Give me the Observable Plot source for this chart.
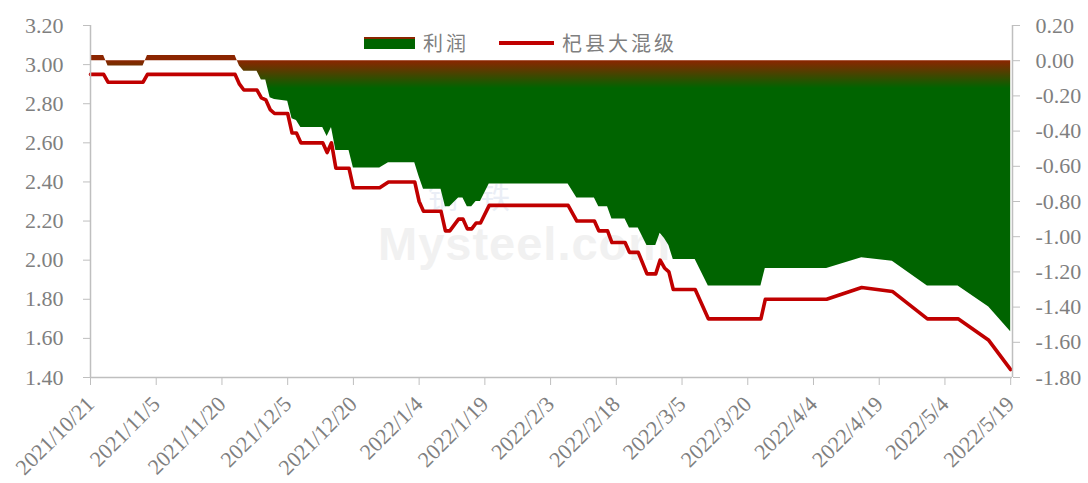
<!DOCTYPE html>
<html><head><meta charset="utf-8">
<script src="https://cdn.jsdelivr.net/npm/d3@7"></script>
<script src="https://cdn.jsdelivr.net/npm/@observablehq/plot@0.6"></script>
<style>
body{margin:0;background:#fff;}
#wrap{position:relative;width:1088px;height:483px;overflow:hidden;background:#fff;}
#legend{position:absolute;left:364px;top:28px;display:flex;align-items:center;font-family:"Noto Sans CJK SC",sans-serif;font-size:20px;color:#7f7f7f;letter-spacing:3px;z-index:3;}
.sw-area{width:51px;height:12px;background:#006400;border-top:2px solid #8B2500;box-sizing:border-box;margin-right:8px;}
.sw-line{width:55px;height:4px;background:#C00000;margin-right:8px;margin-left:30px;}
#wm{position:absolute;left:378px;top:178px;z-index:0;pointer-events:none;}
#wm .cn{margin-left:50px;font-family:"Noto Sans CJK SC",sans-serif;font-size:30px;color:#eaeef6;letter-spacing:22px;line-height:34px;height:34px;margin-bottom:10px;}
#wm .en{font-family:"Liberation Sans",Arial,sans-serif;font-weight:bold;font-size:47px;color:#f1f1f1;line-height:44px;letter-spacing:1px;}
#chart{position:absolute;left:0;top:0;z-index:1;}
</style></head>
<body><div id="wrap">
<div id="wm"><div class="cn">钢铁</div><div class="en">Mysteel.com</div></div>
<div id="chart"></div>
<div id="legend"><div class="sw-area"></div><span>利润</span><div class="sw-line"></div><span>杞县大混级</span></div>
</div>
<script>
const dates = ["2021/10/21","2021/10/24","2021/10/25","2021/11/2","2021/11/3","2021/11/23","2021/11/24","2021/11/25","2021/11/28","2021/11/29","2021/11/30","2021/12/1","2021/12/2","2021/12/5","2021/12/6","2021/12/7","2021/12/8","2021/12/13","2021/12/14","2021/12/15","2021/12/16","2021/12/19","2021/12/20","2021/12/26","2021/12/28","2022/1/3","2022/1/4","2022/1/5","2022/1/9","2022/1/10","2022/1/11","2022/1/13","2022/1/14","2022/1/15","2022/1/16","2022/1/17","2022/1/18","2022/1/20","2022/2/7","2022/2/9","2022/2/13","2022/2/14","2022/2/16","2022/2/17","2022/2/20","2022/2/21","2022/2/23","2022/2/25","2022/2/27","2022/2/28","2022/3/1","2022/3/2","2022/3/3","2022/3/8","2022/3/11","2022/3/23","2022/3/24","2022/4/7","2022/4/15","2022/4/22","2022/4/30","2022/5/7","2022/5/14","2022/5/19"];
const price = [2.95,2.95,2.91,2.91,2.95,2.95,2.90,2.87,2.87,2.83,2.82,2.77,2.75,2.75,2.65,2.65,2.60,2.60,2.55,2.60,2.47,2.47,2.37,2.37,2.40,2.40,2.30,2.25,2.25,2.15,2.15,2.21,2.21,2.16,2.16,2.19,2.19,2.28,2.28,2.20,2.20,2.15,2.15,2.09,2.09,2.04,2.04,1.93,1.93,2.00,1.96,1.94,1.85,1.85,1.70,1.70,1.80,1.80,1.86,1.84,1.70,1.70,1.59,1.44];
const profit = [0.03,0.03,-0.03,-0.03,0.03,0.03,-0.03,-0.06,-0.06,-0.11,-0.11,-0.21,-0.22,-0.23,-0.33,-0.34,-0.38,-0.38,-0.43,-0.38,-0.51,-0.51,-0.61,-0.61,-0.58,-0.58,-0.66,-0.73,-0.73,-0.83,-0.83,-0.78,-0.78,-0.83,-0.83,-0.80,-0.80,-0.70,-0.70,-0.78,-0.78,-0.83,-0.83,-0.90,-0.90,-0.95,-0.95,-1.05,-1.05,-0.98,-1.01,-1.05,-1.13,-1.13,-1.28,-1.28,-1.18,-1.18,-1.12,-1.14,-1.28,-1.28,-1.40,-1.54];
const leftTicks = [1.4,1.6,1.8,2.0,2.2,2.4,2.6,2.8,3.0,3.2];
const rightTicks = [0.2,0.0,-0.2,-0.4,-0.6,-0.8,-1.0,-1.2,-1.4,-1.6,-1.8];
const xTickLabels = ["2021/10/21","2021/11/5","2021/11/20","2021/12/5","2021/12/20","2022/1/4","2022/1/19","2022/2/3","2022/2/18","2022/3/5","2022/3/20","2022/4/4","2022/4/19","2022/5/4","2022/5/19"];

const parse = d3.utcParse("%Y/%m/%d");
const rows = dates.map((d,i)=>({date: parse(d), price: price[i], profit: profit[i]}));
// secondary axis (profit) mapped onto the primary scale: 0.20 -> 3.20, -1.80 -> 1.40
const toLeft = p => 3.02 + 0.9*p;
const fromLeft = v => (v - 3.02)/0.9;
const xTicks = xTickLabels.map(parse);
const xStart = xTicks[0];
const xEnd = d3.utcHour.offset(xTicks[xTicks.length-1], 10);
const fmt = d3.utcFormat("%Y/%-m/%-d");
const axisColor = "#bfbfbf";
const textColor = "#7f7f7f";

const chart = Plot.plot({
  width:1088, height:483,
  marginLeft:90, marginRight:76, marginTop:25, marginBottom:106,
  style:{fontFamily:'"Liberation Serif","Times New Roman",serif', fontSize:"22px", color:textColor, background:"transparent", overflow:"visible"},
  x:{type:"utc", domain:[xStart, xEnd]},
  y:{domain:[1.4,3.2]},
  marks:[
    Plot.areaY(rows,{x:"date", y1: ()=>toLeft(0), y2: d=>toLeft(d.profit), fill:"url(#profitGrad)"}),
    Plot.line(rows,{x:"date", y:"price", stroke:"#C00000", strokeWidth:3.6}),
    Plot.ruleX([xStart],{stroke:axisColor, strokeWidth:1.5}),
    Plot.ruleX([xEnd],{stroke:axisColor, strokeWidth:1.5}),
    Plot.ruleY([1.4],{stroke:axisColor, strokeWidth:1.5}),
    Plot.axisY(leftTicks,{anchor:"left", tickSize:7, tickPadding:20, tickFormat:d=>d.toFixed(2), stroke:axisColor, fill:textColor, fontSize:22, label:null}),
    Plot.axisY(rightTicks.map(toLeft),{anchor:"right", tickSize:7, tickPadding:16, tickFormat:v=>fromLeft(v).toFixed(2), stroke:axisColor, fill:textColor, fontSize:22, label:null}),
    Plot.axisX(xTicks,{anchor:"bottom", tickSize:8, tickPadding:15, tickRotate:-45, tickFormat:fmt, stroke:axisColor, fill:textColor, fontSize:22, label:null})
  ]
});

const defs = d3.select(chart).insert("defs", ":first-child");
const grad = defs.append("linearGradient").attr("id","profitGrad").attr("x1",0).attr("y1",0).attr("x2",0).attr("y2",1);
grad.append("stop").attr("offset","0.02").attr("stop-color","#8B2500");
grad.append("stop").attr("offset","0.12").attr("stop-color","#006400");
grad.append("stop").attr("offset","1").attr("stop-color","#006400");

document.getElementById("chart").appendChild(chart);
</script>
</body></html>
